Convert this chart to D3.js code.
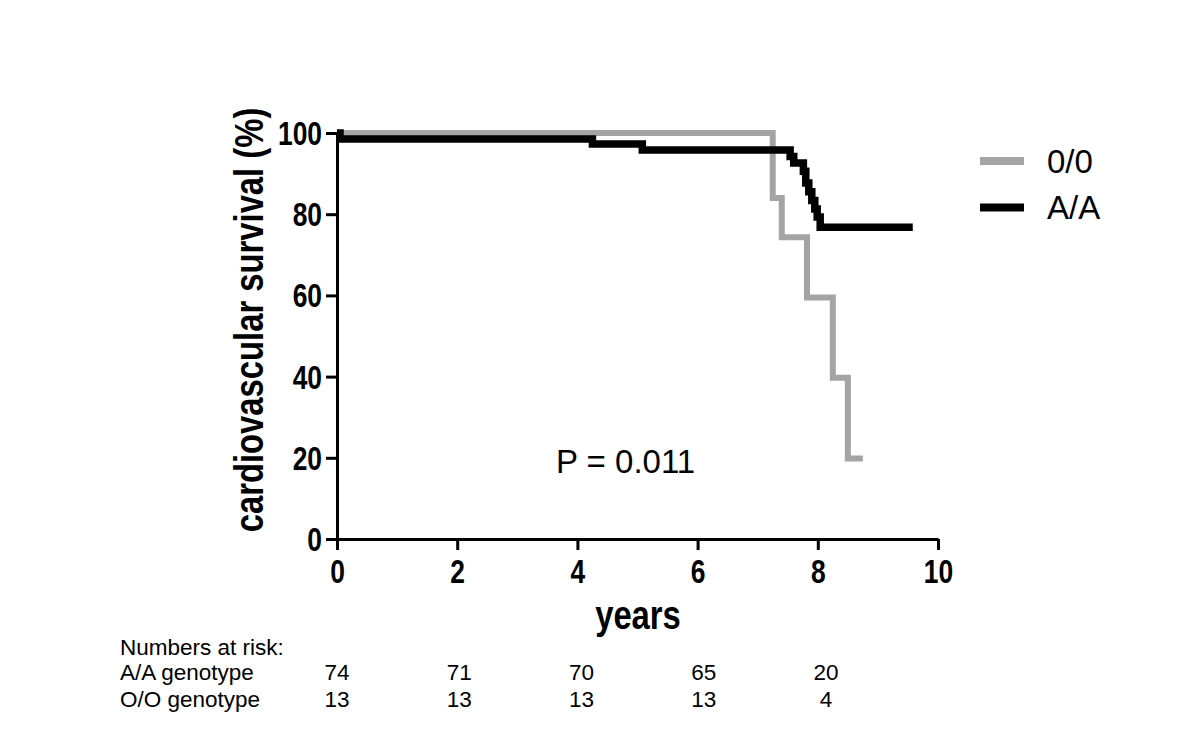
<!DOCTYPE html>
<html>
<head>
<meta charset="utf-8">
<script src="https://cdn.jsdelivr.net/npm/d3@7"></script>
<style>
  html, body { margin: 0; padding: 0; background: #fff; }
  svg { display: block; }
  text { font-family: "Liberation Sans", Arial, sans-serif; }
</style>
</head>
<body>
<svg id="chart" width="1200" height="748"></svg>
<script>
// ---- data ----
const seriesNames = ["0/0", "A/A"];
const ooTimes = [0, 7.25, 7.4, 7.82, 8.25, 8.5, 8.75];
const ooSurv  = [100, 84.0, 74.3, 59.5, 39.7, 19.8, 19.8];
const aaTimes = [0, 0.05, 4.25, 5.08, 7.54, 7.6, 7.76, 7.8, 7.85, 7.9, 7.95, 7.99, 8.04, 9.58];
const aaSurv  = [100, 98.5, 97.3, 95.8, 94.2, 92.6, 90.6, 87.7, 85.5, 83.4, 81.3, 79.3, 76.8, 76.8];
const xTicks = [0, 2, 4, 6, 8, 10];
const yTicks = [0, 20, 40, 60, 80, 100];
const riskTimes = [0, 2, 4, 6, 8];
const riskRowLabels = ["A/A genotype", "O/O genotype"];
const riskAA = [74, 71, 70, 65, 20];
const riskOO = [13, 13, 13, 13, 4];
const pText = "P = 0.011";

// ---- layout ----
const svg = d3.select("#chart");
const x = d3.scaleLinear().domain([0, 10]).range([337, 938]);
const y = d3.scaleLinear().domain([0, 100]).range([539, 133]);
const NARROW = 0.8;

// curves
const line = d3.line().curve(d3.curveStepAfter).x(d => x(d[0])).y(d => y(d[1]));
const ooData = ooTimes.map((t, i) => [t, ooSurv[i]]);
const aaData = aaTimes.map((t, i) => [t, aaSurv[i]]);

svg.append("path").datum(ooData).attr("d", line)
  .attr("fill", "none").attr("stroke", "#a4a4a7").attr("stroke-width", 6);
svg.append("path").datum(aaData).attr("d", line)
  .attr("fill", "none").attr("stroke", "#000").attr("stroke-width", 7.5);

// axes
const xAxis = svg.append("g").attr("transform", `translate(0,${y(0)})`)
  .call(d3.axisBottom(x).tickValues(xTicks).tickSize(11).tickSizeOuter(0).tickFormat(d3.format("d")));
const yAxis = svg.append("g").attr("transform", `translate(${x(0)},0)`)
  .call(d3.axisLeft(y).tickValues(yTicks).tickSize(11).tickSizeOuter(0).tickFormat(d3.format("d")));

[xAxis, yAxis].forEach(g => {
  g.select(".domain").attr("stroke", "#000").attr("stroke-width", 3);
  g.selectAll(".tick line").attr("stroke", "#000").attr("stroke-width", 3);
  g.selectAll(".tick text")
    .attr("fill", "#000")
    .style("font-family", '"Liberation Sans", Arial, sans-serif')
    .style("font-weight", "bold")
    .style("font-size", "33px");
});
xAxis.selectAll(".tick text").attr("y", 44).attr("dy", 0)
  .attr("transform", `scale(${NARROW},1)`);
yAxis.selectAll(".tick text").attr("x", -15 / NARROW).attr("dy", "0.35em")
  .attr("transform", `scale(${NARROW},1)`);

// axis titles
svg.append("text")
  .attr("transform", `translate(263,320) rotate(-90) scale(0.82,1)`)
  .attr("text-anchor", "middle")
  .style("font-weight", "bold").style("font-size", "40px")
  .text("cardiovascular survival (%)");
svg.append("text")
  .attr("transform", `translate(638,629) scale(0.82,1)`)
  .attr("text-anchor", "middle")
  .style("font-weight", "bold").style("font-size", "40px")
  .text("years");

// p value
svg.append("text").attr("x", 556).attr("y", 473)
  .style("font-size", "33px").text(pText);

// legend
const legColors = ["#a4a4a7", "#000"];
const leg = svg.append("g");
seriesNames.forEach((name, i) => {
  const ly = 161 + i * 46.5;
  leg.append("line").attr("x1", 980).attr("x2", 1024).attr("y1", ly).attr("y2", ly)
    .attr("stroke", legColors[i]).attr("stroke-width", 8);
  leg.append("text").attr("x", 1047).attr("y", ly + 11.5)
    .style("font-size", "33px").text(name);
});

// numbers at risk
const risk = d3.scaleLinear().domain([0, 8]).range([337, 826]);
svg.append("text").attr("x", 120).attr("y", 655).style("font-size", "22.5px").text("Numbers at risk:");
[riskAA, riskOO].forEach((row, r) => {
  const by = 680 + r * 27;
  svg.append("text").attr("x", 120).attr("y", by).style("font-size", "22.5px").text(riskRowLabels[r]);
  svg.append("g").selectAll("text").data(row).join("text")
    .attr("x", (d, i) => risk(riskTimes[i]))
    .attr("y", by)
    .attr("text-anchor", "middle")
    .style("font-size", "22.5px")
    .text(d => d);
});
</script>
</body>
</html>
